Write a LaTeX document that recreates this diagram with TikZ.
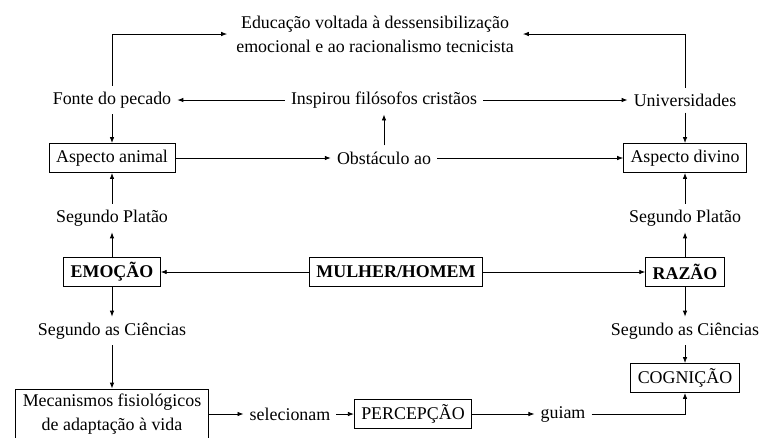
\documentclass[tikz,border=0pt]{standalone}
\usepackage{fontspec}
\setmainfont{Liberation Serif}
\usetikzlibrary{arrows.meta}

\tikzset{
	txt/.style={inner sep=6pt},
	box/.style={draw, line width=0.8pt, inner xsep=7pt, inner ysep=0pt, minimum height=29pt},
	conn/.style={line width=0.8pt, -{Latex[length=6pt,width=4.5pt]}}
}

\begin{document}
\begin{tikzpicture}[x=1pt, y=-1pt, font=\fontsize{17.9}{24}\selectfont]
	\useasboundingbox (0,0) rectangle (762,437);

	\node[txt, inner xsep=9pt, align=center] (edu) at (375,34) {Educação voltada à dessensibilização\\emocional e ao racionalismo tecnicista};

	\node[txt] (fonte) at (112,100) {Fonte do pecado};
	\node[txt] (insp) at (384,100) {Inspirou filósofos cristãos};
	\node[txt] (univ) at (685,100) {Universidades};

	\node[box] (animal) at (112,158) {Aspecto animal};
	\node[txt] (obst) at (384,158) {Obstáculo ao};
	\node[box] (divino) at (685,158) {Aspecto divino};

	\node[txt] (platA) at (112,218) {Segundo Platão};
	\node[txt] (platB) at (685,218) {Segundo Platão};

	\node[box] (emocao) at (112,272) {\textbf{EMOÇÃO}};
	\node[box] (mulher) at (396,272) {\textbf{MULHER/HOMEM}};
	\node[box] (razao) at (685,272) {\textbf{RAZÃO}};

	\node[txt] (cienA) at (112,331) {Segundo as Ciências};
	\node[txt] (cienB) at (685,331) {Segundo as Ciências};

	\node[box] (cog) at (685,378) {COGNIÇÃO};

	\node[box, align=center, minimum height=50pt] (mec) at (112,414) {Mecanismos fisiológicos\\de adaptação à vida};
	\node[txt] (selec) at (290,414) {selecionam};
	\node[box] (perc) at (413,414) {PERCEPÇÃO};
	\node[txt] (guiam) at (563,414) {guiam};

	\draw[conn] (fonte.north) |- (edu.west);
	\draw[conn] (univ.north) |- (edu.east);
	\draw[conn] (insp.west) -- (fonte.east);
	\draw[conn] (insp.east) -- (univ.west);
	\draw[conn] (fonte.south) -- (animal.north);
	\draw[conn] (univ.south) -- (divino.north);
	\draw[conn] (animal.east) -- (obst.west);
	\draw[conn] (obst.east) -- (divino.west);
	\draw[conn] (obst.north) -- (insp.south);
	\draw[conn] (platA.north) -- (animal.south);
	\draw[conn] (platB.north) -- (divino.south);
	\draw[conn] (emocao.north) -- (platA.south);
	\draw[conn] (razao.north) -- (platB.south);
	\draw[conn] (mulher.west) -- (emocao.east);
	\draw[conn] (mulher.east) -- (razao.west);
	\draw[conn] (emocao.south) -- (cienA.north);
	\draw[conn] (razao.south) -- (cienB.north);
	\draw[conn] (cienA.south) -- (mec.north);
	\draw[conn] (cienB.south) -- (cog.north);
	\draw[conn] (mec.east) -- (selec.west);
	\draw[conn] (selec.east) -- (perc.west);
	\draw[conn] (perc.east) -- (guiam.west);
	\draw[conn] (guiam.east) -| (cog.south);
\end{tikzpicture}
\end{document}
